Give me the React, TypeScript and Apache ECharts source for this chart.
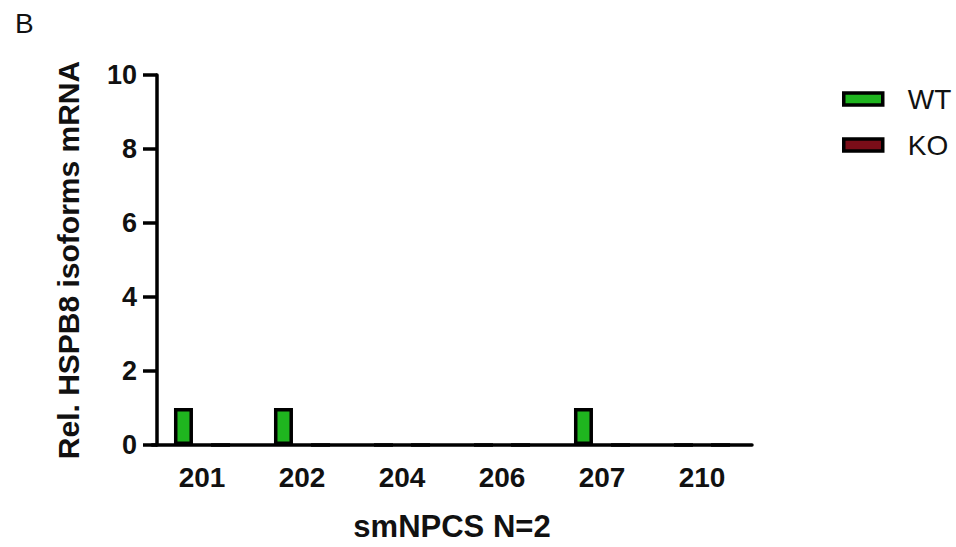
import React, { useEffect, useRef } from "react";
import * as echarts from "echarts";

const categories = ["201", "202", "204", "206", "207", "210"];
const wtValues = [1, 1, 0, 0, 1, 0];
const koValues = [0, 0, 0, 0, 0, 0];
const seriesNames = ["WT", "KO"];
const yTicks = { min: 0, max: 10, interval: 2 };

const FONT = "'Liberation Sans', Arial, sans-serif";

export default function App() {
  const ref = useRef<HTMLDivElement>(null);
  useEffect(() => {
    document.body.style.margin = "0";
    if (!ref.current) return;
    const chart = echarts.init(ref.current, null, { renderer: "svg" });
    chart.setOption({
      animation: false,
      backgroundColor: "#ffffff",
      title: {
        text: "B",
        left: 10,
        top: 4,
        textStyle: { fontFamily: FONT, fontSize: 28, fontWeight: "normal", color: "#111" },
      },
      legend: {
        orient: "vertical",
        left: 837,
        top: 80,
        itemWidth: 39,
        itemHeight: 12,
        itemGap: 18,
        icon: "rect",
        data: seriesNames,
        itemStyle: { borderColor: "#000", borderWidth: 3.5 },
        textStyle: { fontFamily: FONT, fontSize: 28, color: "#111", padding: [0, 0, 0, 20] },
      },
      grid: { left: 152, right: 204, top: 75, bottom: 97 },
      xAxis: {
        type: "category",
        data: categories,
        name: "smNPCS N=2",
        nameLocation: "middle",
        nameGap: 66,
        nameTextStyle: { fontFamily: FONT, fontSize: 31, fontWeight: "bold", color: "#111" },
        axisLine: { lineStyle: { color: "#000", width: 3.5 } },
        axisTick: { alignWithLabel: true, length: 10, lineStyle: { color: "#000", width: 3.5 } },
        axisLabel: { fontFamily: FONT, fontSize: 28, fontWeight: "bold", color: "#111", margin: 18 },
      },
      yAxis: {
        type: "value",
        min: yTicks.min,
        max: yTicks.max,
        interval: yTicks.interval,
        offset: -5,
        name: "Rel. HSPB8 isoforms mRNA",
        nameLocation: "middle",
        nameGap: 74,
        nameTextStyle: { fontFamily: FONT, fontSize: 30, fontWeight: "bold", color: "#111" },
        splitLine: { show: false },
        axisLine: { show: true, lineStyle: { color: "#000", width: 3.5 } },
        axisTick: { show: true, length: 14, lineStyle: { color: "#000", width: 3.5 } },
        axisLabel: { fontFamily: FONT, fontSize: 27, fontWeight: "bold", color: "#111", margin: 20 },
      },
      series: [
        {
          name: seriesNames[0],
          type: "bar",
          data: wtValues,
          barWidth: 19,
          barGap: "95%",
          itemStyle: { color: "#1fb51f", borderColor: "#000", borderWidth: 3.5 },
        },
        {
          name: seriesNames[1],
          type: "bar",
          data: koValues,
          barWidth: 19,
          itemStyle: { color: "#7a0d18", borderColor: "#000", borderWidth: 3.5 },
        },
      ],
    });
    return () => chart.dispose();
  }, []);
  return <div ref={ref} style={{ width: 956, height: 547 }} />;
}
